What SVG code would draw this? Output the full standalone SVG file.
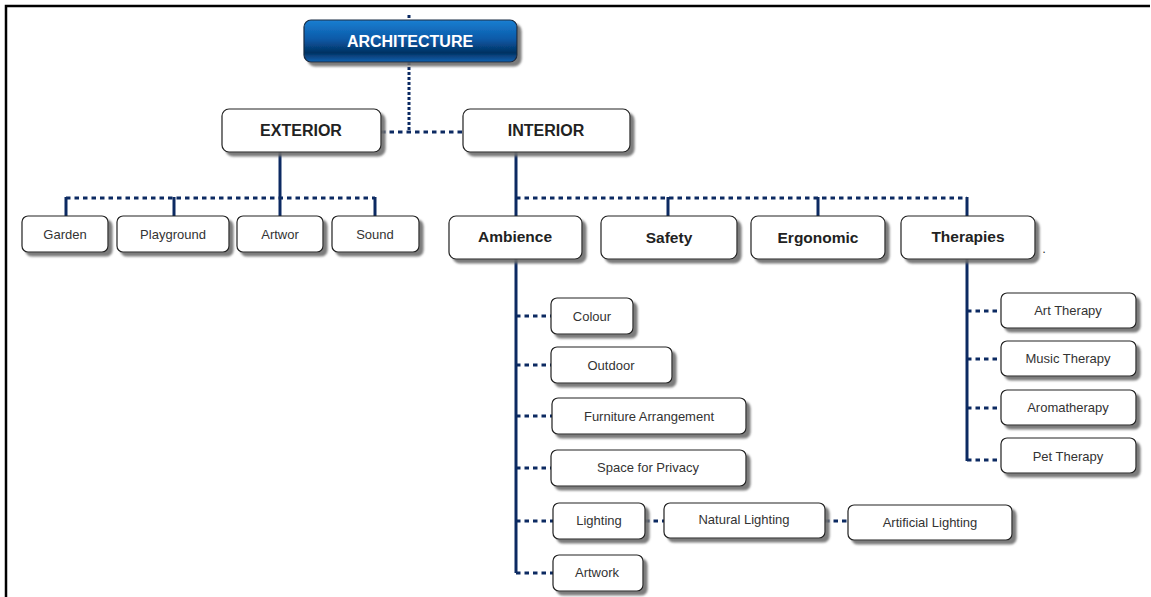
<svg xmlns="http://www.w3.org/2000/svg" width="1151" height="597" viewBox="0 0 1151 597">
<defs>
<linearGradient id="blue" x1="0" y1="0" x2="0" y2="1">
<stop offset="0" stop-color="#1b7fd2"/>
<stop offset="0.45" stop-color="#0a5aa8"/>
<stop offset="0.78" stop-color="#043262"/>
<stop offset="1" stop-color="#0e62b2"/>
</linearGradient>
<filter id="sh" x="-10%" y="-20%" width="130%" height="160%">
<feDropShadow dx="4" dy="4" stdDeviation="1" flood-color="#6e6e6e" flood-opacity="0.9"/>
</filter>
</defs>
<style>
.box{fill:#fff;stroke:#222;stroke-width:1.2;filter:url(#sh)}
.top{fill:url(#blue);stroke:#1a2a40;stroke-width:1.2;filter:url(#sh)}
.t{font-family:"Liberation Sans",Arial,sans-serif;text-anchor:middle}
.leaf{font-size:13px;fill:#333}
.l1{font-size:16px;font-weight:bold;fill:#222}
.l2{font-size:15.5px;font-weight:bold;fill:#222}
.tt{font-size:16px;font-weight:bold;fill:#fff}
.sol{stroke:#0c2a62;stroke-width:3;fill:none}
.dot{stroke:#0c2a62;stroke-width:3;fill:none;stroke-dasharray:4.5 4}
.dotv{stroke:#0c2a62;stroke-width:3;fill:none;stroke-dasharray:3 2}
</style>
<rect width="1151" height="597" fill="#fff"/>
<path d="M6,597 V6 H1150" fill="none" stroke="#000" stroke-width="2.5"/>
<g id="connectors">
<path class="dotv" d="M409,15 V20"/>
<path class="dotv" d="M409,62 V132"/>
<path class="dot" d="M381,132 H463"/>
<path class="sol" d="M280,152 V216"/>
<path class="dot" d="M66,198 H375"/>
<path class="sol" d="M66,197 V216 M174,197 V216 M375,197 V216"/>
<path class="sol" d="M516,152 V573"/>
<path class="dot" d="M516,198 H967"/>
<path class="sol" d="M668,197 V216 M818,197 V216 M967,197 V216"/>
<path class="sol" d="M967,259 V461"/>
<path class="dot" d="M967,311 H1001 M967,359 H1001 M967,408 H1001 M967,460 H1001"/>
<path class="dot" d="M516,316 H551 M516,365 H551 M516,416 H552 M516,468 H551 M516,521 H553 M516,573 H553"/>
<path class="dot" d="M645,521 H664 M825,521 H848"/>
</g>
<g id="architecture"><rect class="top" x="304" y="20" width="213" height="42" rx="7"/><text class="t tt" x="410" y="47">ARCHITECTURE</text></g>
<g id="exterior"><rect class="box" x="222" y="109" width="159" height="43" rx="7"/><text class="t l1" x="301" y="136">EXTERIOR</text></g>
<g id="interior"><rect class="box" x="463" y="109" width="167" height="43" rx="7"/><text class="t l1" x="546" y="136">INTERIOR</text></g>
<g id="garden"><rect class="box" x="22" y="216" width="86" height="36" rx="6"/><text class="t leaf" x="65" y="239">Garden</text></g>
<g id="playground"><rect class="box" x="117" y="216" width="112" height="36" rx="6"/><text class="t leaf" x="173" y="239">Playground</text></g>
<g id="artwor"><rect class="box" x="237" y="216" width="86" height="36" rx="6"/><text class="t leaf" x="280" y="239">Artwor</text></g>
<g id="sound"><rect class="box" x="332" y="216" width="87" height="36" rx="6"/><text class="t leaf" x="375" y="239">Sound</text></g>
<g id="ambience"><rect class="box" x="449" y="216" width="133" height="43" rx="7"/><text class="t l2" x="515" y="242">Ambience</text></g>
<g id="safety"><rect class="box" x="601" y="216" width="136" height="43" rx="7"/><text class="t l2" x="669" y="243">Safety</text></g>
<g id="ergonomic"><rect class="box" x="751" y="216" width="134" height="43" rx="7"/><text class="t l2" x="818" y="243">Ergonomic</text></g>
<g id="therapies"><rect class="box" x="901" y="216" width="134" height="43" rx="7"/><text class="t l2" x="968" y="242">Therapies</text></g>
<text class="t leaf" x="1044" y="253">.</text>
<g id="art-therapy"><rect class="box" x="1001" y="293" width="135" height="35" rx="6"/><text class="t leaf" x="1068" y="315">Art Therapy</text></g>
<g id="music-therapy"><rect class="box" x="1001" y="341" width="135" height="35" rx="6"/><text class="t leaf" x="1068" y="363">Music Therapy</text></g>
<g id="aromatherapy"><rect class="box" x="1001" y="390" width="135" height="35" rx="6"/><text class="t leaf" x="1068" y="412">Aromatherapy</text></g>
<g id="pet-therapy"><rect class="box" x="1001" y="438" width="135" height="35" rx="6"/><text class="t leaf" x="1068" y="461">Pet Therapy</text></g>
<g id="colour"><rect class="box" x="551" y="298" width="82" height="36" rx="6"/><text class="t leaf" x="592" y="321">Colour</text></g>
<g id="outdoor"><rect class="box" x="551" y="347" width="121" height="36" rx="6"/><text class="t leaf" x="611" y="370">Outdoor</text></g>
<g id="furniture"><rect class="box" x="552" y="398" width="194" height="36" rx="6"/><text class="t leaf" x="649" y="421">Furniture Arrangement</text></g>
<g id="privacy"><rect class="box" x="551" y="450" width="195" height="36" rx="6"/><text class="t leaf" x="648" y="472">Space for Privacy</text></g>
<g id="lighting"><rect class="box" x="553" y="503" width="92" height="36" rx="6"/><text class="t leaf" x="599" y="525">Lighting</text></g>
<g id="natural-lighting"><rect class="box" x="664" y="503" width="161" height="35" rx="6"/><text class="t leaf" x="744" y="524">Natural Lighting</text></g>
<g id="artificial-lighting"><rect class="box" x="848" y="505" width="164" height="35" rx="6"/><text class="t leaf" x="930" y="527">Artificial Lighting</text></g>
<g id="artwork"><rect class="box" x="553" y="555" width="90" height="36" rx="6"/><text class="t leaf" x="597" y="577">Artwork</text></g>
</svg>
